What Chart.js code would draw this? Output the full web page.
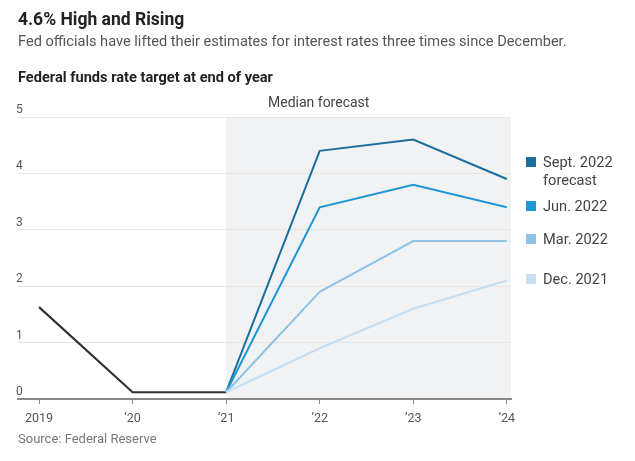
<!DOCTYPE html>
<html>
<head>
<meta charset="utf-8">
<script src="https://cdn.jsdelivr.net/npm/chart.js@4/dist/chart.umd.min.js"></script>
<style>
  body { margin: 0; background: #fff; font-family: "Roboto", sans-serif; }
  .wrap { position: relative; width: 635px; height: 461px; }
  .txt { position: absolute; white-space: nowrap; }
  #title { left: 18px; top: 9px; font-size: 17.5px; font-weight: bold; color: #222; }
  #sub { left: 18px; top: 32px; font-size: 14.6px; color: #555; }
  #label { left: 18px; top: 68px; font-size: 14.6px; font-weight: bold; color: #222; }
  #median { left: 268px; top: 94px; font-size: 14px; color: #444; }
  #source { left: 18px; top: 431px; font-size: 13px; color: #777; }
  .leg { position: absolute; left: 526px; font-size: 14.6px; color: #444; line-height: 18px; }
  .leg i { position: absolute; left: 0; top: 4px; width: 10px; height: 10px; }
  .leg span { display: block; margin-left: 17px; }
  canvas { position: absolute; left: 0; top: 0; }
</style>
</head>
<body>
<div class="wrap">
  <canvas id="c" width="635" height="461"></canvas>
  <div class="txt" id="title">4.6% High and Rising</div>
  <div class="txt" id="sub">Fed officials have lifted their estimates for interest rates three times since December.</div>
  <div class="txt" id="label">Federal funds rate target at end of year</div>
  <div class="txt" id="median">Median forecast</div>
  <div class="txt" id="source">Source: Federal Reserve</div>
  <div id="legend"></div>
</div>
<script>
const years = [2019, 2020, 2021, 2022, 2023, 2024];
const tickLabels = ['2019', '\u201920', '\u201921', '\u201922', '\u201923', '\u201924'];
const yTicks = [0, 1, 2, 3, 4, 5];

const history = [1.63, 0.12, 0.12, null, null, null];
const sept2022 = [null, null, 0.12, 4.4, 4.6, 3.9];
const jun2022 = [null, null, 0.12, 3.4, 3.8, 3.4];
const mar2022 = [null, null, 0.12, 1.9, 2.8, 2.8];
const dec2021 = [null, null, 0.12, 0.9, 1.6, 2.1];

const forecastStart = 2021;

const series = [
    { name: 'Sept. 2022 forecast', values: sept2022, color: '#1a6e9c', legendTop: 153 },
    { name: 'Jun. 2022', values: jun2022, color: '#1e96d4', legendTop: 197 },
    { name: 'Mar. 2022', values: mar2022, color: '#8fc4e8', legendTop: 230 },
    { name: 'Dec. 2021', values: dec2021, color: '#c6dff2', legendTop: 270 },
];

const toPoints = vals => years.map((y, i) => ({ x: y, y: vals[i] })).filter(p => p.y !== null);

const datasets = series.slice().reverse().map(s => ({
    label: s.name,
    data: toPoints(s.values),
    borderColor: s.color,
    borderWidth: 2,
    pointRadius: 0,
    tension: 0,
}));
datasets.push({
    label: 'Actual',
    data: toPoints(history),
    borderColor: '#333333',
    borderWidth: 2.2,
    pointRadius: 0,
    tension: 0,
});

// legend on the right
const legendEl = document.getElementById('legend');
series.forEach(s => {
    const words = s.name === 'Sept. 2022 forecast' ? 'Sept. 2022<br>forecast' : s.name;
    legendEl.innerHTML += `<div class="leg" style="top:${s.legendTop}px"><i style="background:${s.color}"></i><span>${words}</span></div>`;
});

const shadePlugin = {
    id: 'shade',
    beforeDraw(chart) {
        const { ctx, chartArea, scales } = chart;
        const x0 = scales.x.getPixelForValue(forecastStart);
        ctx.save();
        ctx.fillStyle = '#f1f2f4';
        ctx.fillRect(x0, chartArea.top, chartArea.right - x0, chartArea.bottom - chartArea.top);
        ctx.restore();
    }
};

new Chart(document.getElementById('c'), {
    type: 'line',
    data: { datasets: datasets },
    options: {
        responsive: false,
        animation: false,
        layout: { padding: { top: 117, left: 18, right: 124, bottom: 0 } },
        plugins: { legend: { display: false }, tooltip: { enabled: false } },
        scales: {
            x: {
                type: 'linear',
                min: 2018.775,
                max: 2024.045,
                afterFit(scale) { scale.height = 62; },
                afterBuildTicks(scale) { scale.ticks = years.map(v => ({ value: v })); },
                ticks: {
                    autoSkip: false,
                    maxRotation: 0,
                    padding: 7,
                    color: '#555',
                    font: { family: 'Roboto, sans-serif', size: 12.5 },
                    callback: (v) => tickLabels[years.indexOf(v)],
                },
                grid: { drawOnChartArea: false, drawTicks: true, tickLength: 5, color: '#888' },
                border: { display: true, color: '#888', width: 2 },
            },
            y: {
                min: 0,
                max: 5,
                afterFit(scale) { scale.width = 0; },
                afterBuildTicks(scale) { scale.ticks = yTicks.map(v => ({ value: v })); },
                ticks: {
                    mirror: true,
                    padding: -2,
                    labelOffset: -7,
                    color: '#555',
                    font: { family: 'Roboto, sans-serif', size: 12 },
                },
                grid: { color: '#e6e6e6', drawTicks: false, lineWidth: 1 },
                border: { display: false },
            }
        }
    },
    plugins: [shadePlugin]
});
</script>
</body>
</html>
